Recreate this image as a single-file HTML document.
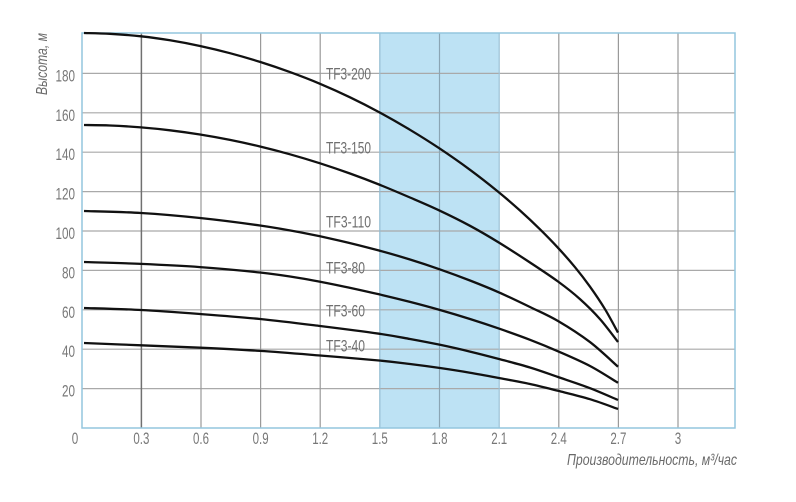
<!DOCTYPE html>
<html>
<head>
<meta charset="utf-8">
<style>
  html,body{margin:0;padding:0;background:#fff;}
  svg{display:block;}
  text{font-family:"Liberation Sans Narrow","Liberation Sans",sans-serif;}
</style>
</head>
<body>
<svg id="chart" width="796" height="502" viewBox="0 0 796 502" xmlns="http://www.w3.org/2000/svg">
  <rect x="0" y="0" width="796" height="502" fill="#ffffff"/>
  <!-- blue band 1.5 - 2.1 -->
  <rect x="379.8" y="33" width="119.5" height="395" fill="#bde2f4"/>

  <!-- horizontal gridlines -->
  <g stroke="#a9a9a9" stroke-width="1.2">
    <line x1="82" y1="388.6" x2="735" y2="388.6"/>
    <line x1="82" y1="349.2" x2="735" y2="349.2"/>
    <line x1="82" y1="309.8" x2="735" y2="309.8"/>
    <line x1="82" y1="270.4" x2="735" y2="270.4"/>
    <line x1="82" y1="231.0" x2="735" y2="231.0"/>
    <line x1="82" y1="191.6" x2="735" y2="191.6"/>
    <line x1="82" y1="152.2" x2="735" y2="152.2"/>
    <line x1="82" y1="112.8" x2="735" y2="112.8"/>
    <line x1="82" y1="73.4" x2="735" y2="73.4"/>
  </g>
  <!-- vertical gridlines -->
  <g stroke="#9a9a9a" stroke-width="1.2">
    <line x1="141.4" y1="33" x2="141.4" y2="428" stroke="#707070" stroke-width="1.5"/>
    <line x1="201.0" y1="33" x2="201.0" y2="428"/>
    <line x1="260.6" y1="33" x2="260.6" y2="428"/>
    <line x1="320.2" y1="33" x2="320.2" y2="428"/>
    <line x1="379.8" y1="33" x2="379.8" y2="428" stroke="#93bcd2"/>
    <line x1="439.5" y1="33" x2="439.5" y2="428" stroke="#8aa5b4"/>
    <line x1="499.2" y1="33" x2="499.2" y2="428" stroke="#9cc2d6"/>
    <line x1="558.8" y1="33" x2="558.8" y2="428"/>
    <line x1="618.4" y1="33" x2="618.4" y2="428"/>
    <line x1="678.0" y1="33" x2="678.0" y2="428"/>
  </g>
  <!-- plot border -->
  <rect x="82" y="33" width="653" height="395" fill="none" stroke="#93c6de" stroke-width="1.5"/>

  <!-- curve labels -->
  <g fill="#6f6f6f" font-size="16.5">
    <text x="326" y="79.5" textLength="45" lengthAdjust="spacingAndGlyphs">TF3-200</text>
    <text x="326" y="153.5" textLength="45" lengthAdjust="spacingAndGlyphs">TF3-150</text>
    <text x="326" y="227.5" textLength="45" lengthAdjust="spacingAndGlyphs">TF3-110</text>
    <text x="326" y="273.5" textLength="39" lengthAdjust="spacingAndGlyphs">TF3-80</text>
    <text x="326" y="316.5" textLength="39" lengthAdjust="spacingAndGlyphs">TF3-60</text>
    <text x="326" y="351.5" textLength="39" lengthAdjust="spacingAndGlyphs">TF3-40</text>
  </g>

  <!-- curves -->
  <g id="curves" fill="none" stroke="#111" stroke-width="2.3" stroke-linejoin="round" stroke-linecap="butt">
    <polyline points="84,33 110,33.8 141,36.3 170,40.3 200,46 230,53.2 260,61.9 290,72.1 320,83.8 350,97.3 379,112.1 410,129.8 439,148.1 470,169.8 498,191.6 520,210.5 540,229.3 558,247.8 575,267.2 590,286.7 605,309.2 618,332.6"/>
    <polyline points="84,125 110,125.5 141,127.4 170,130.3 200,134.5 230,139.9 260,146.5 290,154.3 320,163.3 350,173.5 379,184.5 410,197.5 439,210.3 470,225.8 499,242.6 530,262.5 558,281.5 580,299.1 600,319.1 618,342"/>
    <polyline points="84,211 141,213 200,218 260,225.5 300,232.3 340,240.7 379,250.5 410,259.5 440,269.4 470,280.5 499,292.4 530,307 558,321 590,342.1 618,366.7"/>
    <polyline points="84,262 141,263.9 200,267.1 260,272.5 300,278.1 340,285.7 379,294.3 410,301.9 440,310 470,319 499,328.6 530,339.8 558,351.3 590,366 618,382.8"/>
    <polyline points="84,308 141,310 200,314 260,319 320,326 379,333.7 410,339 440,344.8 470,351.6 499,359 530,367.5 558,377 590,388.2 618,400"/>
    <polyline points="84,343 141,345.3 200,347.7 260,350.9 320,355.5 379,360.5 410,364 440,368 470,372.7 499,378 530,384 558,390.8 590,399.2 618,409"/>
  </g>

  <!-- y tick labels -->
  <g fill="#777" font-size="17" text-anchor="end">
    <text x="75" y="396.6" textLength="13" lengthAdjust="spacingAndGlyphs">20</text>
    <text x="75" y="357.2" textLength="13" lengthAdjust="spacingAndGlyphs">40</text>
    <text x="75" y="317.8" textLength="13" lengthAdjust="spacingAndGlyphs">60</text>
    <text x="75" y="278.4" textLength="13" lengthAdjust="spacingAndGlyphs">80</text>
    <text x="75" y="239.0" textLength="19.5" lengthAdjust="spacingAndGlyphs">100</text>
    <text x="75" y="199.6" textLength="19.5" lengthAdjust="spacingAndGlyphs">120</text>
    <text x="75" y="160.2" textLength="19.5" lengthAdjust="spacingAndGlyphs">140</text>
    <text x="75" y="120.8" textLength="19.5" lengthAdjust="spacingAndGlyphs">160</text>
    <text x="75" y="81.4" textLength="19.5" lengthAdjust="spacingAndGlyphs">180</text>
  </g>
  <!-- x tick labels -->
  <g fill="#777" font-size="17" text-anchor="middle">
    <text x="75" y="444" textLength="6.5" lengthAdjust="spacingAndGlyphs">0</text>
    <text x="141.4" y="444" textLength="16" lengthAdjust="spacingAndGlyphs">0.3</text>
    <text x="201.0" y="444" textLength="16" lengthAdjust="spacingAndGlyphs">0.6</text>
    <text x="260.6" y="444" textLength="16" lengthAdjust="spacingAndGlyphs">0.9</text>
    <text x="320.2" y="444" textLength="16" lengthAdjust="spacingAndGlyphs">1.2</text>
    <text x="379.8" y="444" textLength="16" lengthAdjust="spacingAndGlyphs">1.5</text>
    <text x="439.5" y="444" textLength="16" lengthAdjust="spacingAndGlyphs">1.8</text>
    <text x="499.2" y="444" textLength="16" lengthAdjust="spacingAndGlyphs">2.1</text>
    <text x="558.8" y="444" textLength="16" lengthAdjust="spacingAndGlyphs">2.4</text>
    <text x="618.4" y="444" textLength="16" lengthAdjust="spacingAndGlyphs">2.7</text>
    <text x="678.0" y="444" textLength="6.5" lengthAdjust="spacingAndGlyphs">3</text>
  </g>

  <!-- axis titles -->
  <g transform="translate(47,64) rotate(-90)">
    <text x="0" y="0" fill="#6a6a6a" font-size="16" font-style="italic" text-anchor="middle" textLength="62" lengthAdjust="spacingAndGlyphs">Высота, м</text>
  </g>
  <text x="567" y="465" fill="#6a6a6a" font-size="16" font-style="italic" textLength="170" lengthAdjust="spacingAndGlyphs">Производительность, м³/час</text>
</svg>
<script>
(function(){
  var ns="http://www.w3.org/2000/svg";
  var g=document.getElementById("curves");
  var pls=g.querySelectorAll("polyline");
  for(var k=0;k<pls.length;k++){
    var pl=pls[k];
    var pts=pl.getAttribute("points").trim().split(/\s+/).map(function(s){var a=s.split(",");return [parseFloat(a[0]),parseFloat(a[1])];});
    var n=pts.length;
    var d="M"+pts[0][0]+","+pts[0][1];
    for(var i=0;i<n-1;i++){
      var p0=pts[i>0?i-1:i],p1=pts[i],p2=pts[i+1],p3=pts[i+2<n?i+2:i+1];
      var c1x=p1[0]+(p2[0]-p0[0])/6,c1y=p1[1]+(p2[1]-p0[1])/6;
      var c2x=p2[0]-(p3[0]-p1[0])/6,c2y=p2[1]-(p3[1]-p1[1])/6;
      d+=" C"+c1x.toFixed(2)+","+c1y.toFixed(2)+" "+c2x.toFixed(2)+","+c2y.toFixed(2)+" "+p2[0]+","+p2[1];
    }
    var path=document.createElementNS(ns,"path");
    path.setAttribute("d",d);
    g.replaceChild(path,pl);
  }
})();
</script>
</body>
</html>
